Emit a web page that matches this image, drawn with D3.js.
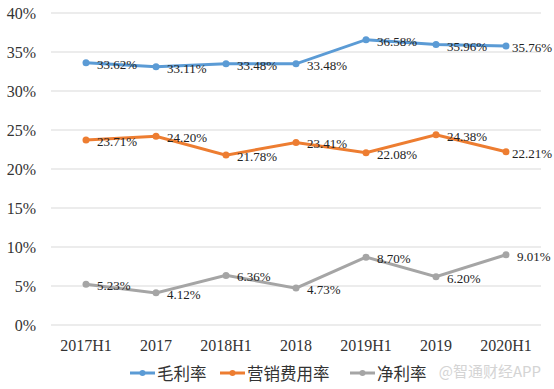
<!DOCTYPE html>
<html>
<head>
<meta charset="utf-8">
<script src="https://cdn.jsdelivr.net/npm/d3@7"></script>
<style>
body{margin:0;background:#fff;}
svg{display:block;}
</style>
</head>
<body>
<svg></svg>
<script>
var screen = {width:554,height:389}
var margins = {top:13,right:13,bottom:64,left:51}

//data
var periods = ["2017H1","2017","2018H1","2018","2019H1","2019","2020H1"]
var grossMargin = [33.62,33.11,33.48,33.48,36.58,35.96,35.76]
var salesExpense = [23.71,24.20,21.78,23.41,22.08,24.38,22.21]
var netMargin = [5.23,4.12,6.36,4.73,8.70,6.20,9.01]
var yTicks = [0,5,10,15,20,25,30,35,40]
var seriesNames = ["毛利率","营销费用率","净利率"]
var seriesColors = ["#5b9bd5","#ed7d31","#a5a5a5"]

var series = [grossMargin,salesExpense,netMargin].map(function(vals,i){
    return {name:seriesNames[i],color:seriesColors[i],values:vals}
})

var width = 541 - margins.left
var height = 325 - margins.top
var serif = "'Liberation Serif','Times New Roman',serif"

var svg = d3.select("svg")
    .attr("width",screen.width)
    .attr("height",screen.height)

var graph = svg.append("g")
    .attr("id","graph")
    .attr("transform","translate("+margins.left+","+margins.top+")")

var xScale = d3.scaleBand()
    .domain(periods)
    .range([0,width])

var yScale = d3.scaleLinear()
    .domain([0,40])
    .range([height,0])

var cx = function(i){return xScale(periods[i])+xScale.bandwidth()/2}

//gridlines
graph.append("g")
    .selectAll("line")
    .data(yTicks)
    .enter()
    .append("line")
    .attr("x1",0)
    .attr("x2",width)
    .attr("y1",function(d){return yScale(d)})
    .attr("y2",function(d){return yScale(d)})
    .attr("stroke","#d9d9d9")
    .attr("stroke-width",1)

//y axis
var yAxis = d3.axisLeft(yScale)
    .tickValues(yTicks)
    .tickSize(0)
    .tickPadding(15)
    .tickFormat(function(d){return d+"%"})
var yg = graph.append("g").attr("id","yAxis").call(yAxis)
yg.select(".domain").remove()
yg.selectAll("text")
    .attr("font-family",serif)
    .attr("font-size",16)
    .attr("fill","#333")

//x axis
var xAxis = d3.axisBottom(xScale)
    .tickSize(0)
    .tickPadding(15)
var xg = graph.append("g")
    .attr("id","xAxis")
    .attr("transform","translate(0,"+height+")")
    .call(xAxis)
xg.select(".domain").remove()
xg.selectAll("text")
    .attr("font-family",serif)
    .attr("font-size",16)
    .attr("fill","#333")

var line = d3.line()
    .x(function(d,i){return cx(i)})
    .y(function(d){return yScale(d)})

var groups = graph.selectAll(".series")
    .data(series)
    .enter()
    .append("g")
    .attr("class","series")

groups.append("path")
    .attr("d",function(s){return line(s.values)})
    .attr("fill","none")
    .attr("stroke",function(s){return s.color})
    .attr("stroke-width",3)

groups.selectAll("circle")
    .data(function(s){return s.values.map(function(v){return {v:v,c:s.color}})})
    .enter()
    .append("circle")
    .attr("cx",function(d,i){return cx(i)})
    .attr("cy",function(d){return yScale(d.v)})
    .attr("r",3.5)
    .attr("fill",function(d){return d.c})

//data labels, kept inside the right edge
var labels = groups.selectAll(".lbl")
    .data(function(s){return s.values})
    .enter()
    .append("text")
    .attr("class","lbl")
    .attr("y",function(d){return yScale(d)+6})
    .attr("font-family",serif)
    .attr("font-size",13)
    .attr("fill","#222")
    .text(function(d){return d.toFixed(2)+"%"})
labels.attr("x",function(d,i){
    var w = this.getComputedTextLength()
    var x = cx(i)+11
    var maxX = screen.width - 2 - margins.left - w
    return Math.min(x,maxX)
})

//legend
var legendX = [130,220,350]
var legend = svg.append("g").attr("id","legend")
var items = legend.selectAll("g")
    .data(series)
    .enter()
    .append("g")
    .attr("transform",function(s,i){return "translate("+legendX[i]+",373)"})
items.append("line")
    .attr("x1",0).attr("x2",25)
    .attr("y1",0).attr("y2",0)
    .attr("stroke",function(s){return s.color})
    .attr("stroke-width",3)
items.append("circle")
    .attr("cx",12.5).attr("cy",0).attr("r",3)
    .attr("fill",function(s){return s.color})
items.append("text")
    .attr("x",27)
    .attr("y",7)
    .attr("font-family","'Noto Sans CJK SC',sans-serif")
    .attr("font-size",16.5)
    .attr("fill","#333")
    .text(function(s){return s.name})

//watermark
svg.append("text")
    .attr("x",541)
    .attr("y",377)
    .attr("text-anchor","end")
    .attr("font-family","'Noto Sans CJK SC',sans-serif")
    .attr("font-size",15)
    .attr("fill","#d4d4d4")
    .text("@智通财经APP")
</script>
</body>
</html>
